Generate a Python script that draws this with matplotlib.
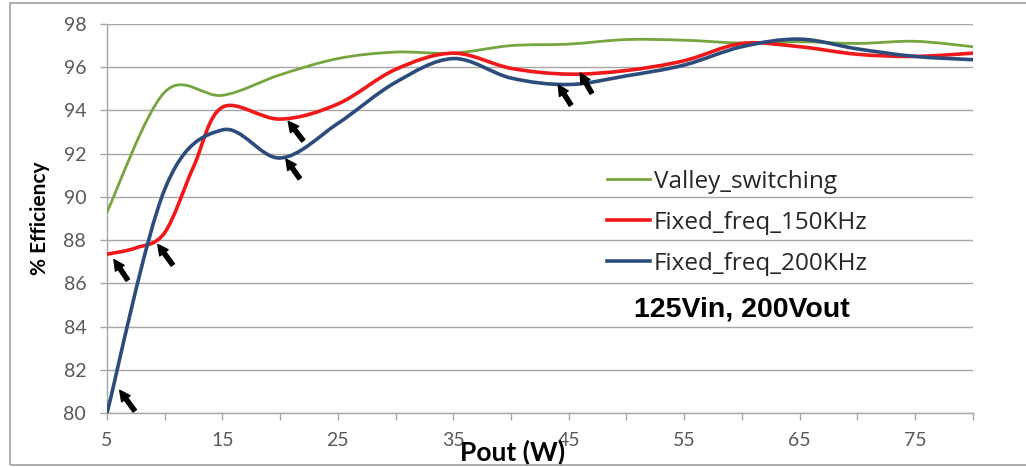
import numpy as np
import matplotlib
matplotlib.use("Agg")
import matplotlib.pyplot as plt
from matplotlib.path import Path
import matplotlib.patches as mpatches

# output power (W)
pout = [5, 10, 15, 20, 25, 30, 35, 40, 45, 50, 55, 60, 65, 70, 75, 80]
pout150 = [5, 7.5, 10, 12.5, 15, 20, 25, 30, 35, 40, 45, 50, 55, 60, 65, 70, 75, 80]

# % efficiency
valleySwitching = [89.3, 94.85, 94.7, 95.65, 96.4, 96.7, 96.65, 97.0, 97.07,
                   97.28, 97.25, 97.12, 97.18, 97.1, 97.2, 96.95]
fixed150 = [87.35, 87.64, 88.35, 91.4, 94.15, 93.6, 94.3, 95.9, 96.65, 95.95,
            95.68, 95.85, 96.3, 97.1, 96.95, 96.6, 96.5, 96.65]
fixed200 = [80.0, 90.35, 93.1, 91.8, 93.4, 95.3, 96.4, 95.5, 95.2,
            95.6, 96.1, 96.95, 97.3, 96.85, 96.5, 96.35]

seriesNames = ["Valley_switching", "Fixed_freq_150KHz", "Fixed_freq_200KHz"]

# arrow heads / tails (x, y) in data units
arrowHeads = [(6.1, 81.05), (5.6, 87.1), (9.4, 87.8), (20.7, 93.5),
              (20.5, 91.75), (44.1, 95.18), (46.0, 95.73)]
arrowTails = [(7.4, 80.1), (6.8, 86.15), (10.7, 86.85), (22.0, 92.6),
              (21.7, 90.85), (45.2, 94.25), (47.0, 94.8)]


def smoothPath(xs, ys):
    # Excel style smoothed line: cubic bezier through each point
    pts = np.column_stack([xs, ys]).astype(float)
    n = len(pts)
    verts = [pts[0]]
    codes = [Path.MOVETO]
    for i in range(n - 1):
        p0 = pts[i - 1] if i > 0 else pts[i]
        p1 = pts[i]
        p2 = pts[i + 1]
        p3 = pts[i + 2] if i + 2 < n else pts[i + 1]
        c1 = p1 + (p2 - p0) / 6.0
        c2 = p2 - (p3 - p1) / 6.0
        verts += [c1, c2, p2]
        codes += [Path.CURVE4] * 3
    return Path(verts, codes)


fig = plt.figure(figsize=(10.26, 4.67), dpi=100)
ax = fig.add_axes([0.1043, 0.1156, 0.8437, 0.833])

colors = ["#74a53e", "#f01818", "#2c4d7c"]
widths = [2.0, 2.6, 2.6]
xsets = [pout, pout150, pout]
for xs, ys, name, c, lw in zip(xsets, [valleySwitching, fixed150, fixed200], seriesNames, colors, widths):
    patch = mpatches.PathPatch(smoothPath(xs, ys), fc="none", ec=c, lw=lw,
                               capstyle="round", joinstyle="round", zorder=3)
    ax.add_patch(patch)
    ax.plot([], [], color=c, lw=lw, label=name)

for head, tail in zip(arrowHeads, arrowTails):
    ax.annotate("", xy=head, xytext=tail,
                arrowprops=dict(arrowstyle="simple,head_length=0.75,head_width=0.75,tail_width=0.3",
                                fc="black", ec="black", shrinkA=0, shrinkB=0),
                zorder=5)

ax.set_xlim(5, 80)
ax.set_ylim(80, 98)
ax.set_xticks(np.arange(5, 81, 5))
ax.set_xticklabels([str(v) if (v - 5) % 10 == 0 else "" for v in range(5, 81, 5)])
ax.set_yticks(np.arange(80, 99, 2))
ax.yaxis.grid(True, color="#a6a6a6", lw=1.0)
ax.set_axisbelow(True)
for s in ["top", "right"]:
    ax.spines[s].set_visible(False)
for s in ["left", "bottom"]:
    ax.spines[s].set_color("#a6a6a6")
    ax.spines[s].set_linewidth(1.0)
ax.tick_params(axis="both", colors="#a6a6a6", length=5, width=1.0,
               labelcolor="#595959", labelsize=14)
ax.tick_params(axis="x", pad=9)
ax.tick_params(axis="y", pad=10)
for lab in ax.get_xticklabels() + ax.get_yticklabels():
    lab.set_family("Lato")

ax.set_ylabel("% Efficiency", fontsize=15, fontweight="bold", family="Lato", labelpad=10)
ax.set_xlabel("Pout (W)", fontsize=19, fontweight="bold", family="Lato")
ax.xaxis.set_label_coords(0.469, -0.068)

leg = ax.legend(loc="upper left", bbox_to_anchor=(0.566, 0.65), frameon=False,
                prop={"family": "Open Sans", "size": 17.5}, handlelength=1.8,
                handletextpad=0.15, labelspacing=0.7, borderaxespad=0)
for t in leg.get_texts():
    t.set_color("#262626")

ax.text(0.733, 0.265, "125Vin, 200Vout", transform=ax.transAxes, ha="center", va="center",
        fontsize=20.5, fontweight="bold", family="Liberation Sans")

# outer chart border
fig.patches.append(mpatches.Rectangle((10 / 1026, 2 / 467), 1.2, 462 / 467,
                                      transform=fig.transFigure, fill=False,
                                      ec="#a0a0a0", lw=1.2, clip_on=False))

fig.savefig("out.png", dpi=100)
